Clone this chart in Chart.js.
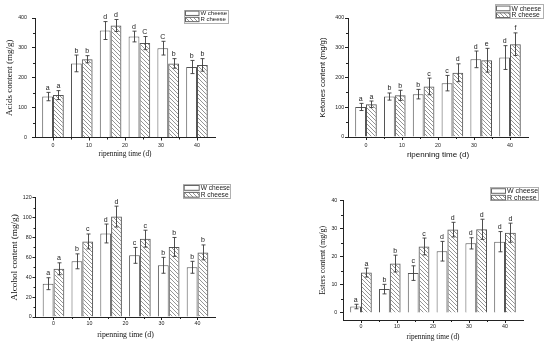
<!DOCTYPE html>
<html><head><meta charset="utf-8">
<script src="https://cdn.jsdelivr.net/npm/chart.js@4"></script>
<style>
body{margin:0;background:#fff;width:550px;height:345px;overflow:hidden;position:relative}
.p{position:absolute}
canvas{display:block}
</style></head><body>
<div class="p" style="left:0;top:0"><canvas id="c1" width="275" height="172"></canvas></div>
<div class="p" style="left:275px;top:0"><canvas id="c2" width="275" height="172"></canvas></div>
<div class="p" style="left:0;top:172px"><canvas id="c3" width="275" height="173"></canvas></div>
<div class="p" style="left:275px;top:172px"><canvas id="c4" width="275" height="173"></canvas></div>
<script>
// ---- data ----
const days = [0, 8, 16, 24, 32, 40];
const xTickValues = [0, 10, 20, 30, 40];
const seriesNames = ['W cheese', 'R cheese'];
const xTitle = 'ripenning time (d)';

const acidsW = [137, 248, 358, 338, 299, 236];
const acidsWErr = [14, 28, 30, 18, 23, 22];
const acidsR = [142, 262, 375, 316, 248, 243];
const acidsRErr = [15, 12, 20, 22, 16, 21];
const acidsWLetters = ['a', 'b', 'd', 'd', 'C', 'b'];
const acidsRLetters = ['a', 'b', 'd', 'C', 'b', 'b'];
const acidsTicks = [0, 100, 200, 300, 400];

const ketonesW = [101, 136, 144, 181, 261, 267];
const ketonesWErr = [12, 12, 16, 26, 28, 40];
const ketonesR = [110, 140, 170, 216, 258, 312];
const ketonesRErr = [11, 17, 28, 30, 40, 38];
const ketonesWLetters = ['a', 'b', 'b', 'c', 'd', 'd'];
const ketonesRLetters = ['a', 'b', 'c', 'd', 'e', 'f'];
const ketonesTicks = [0, 100, 200, 300, 400];

const alcoholW = [33.5, 56, 84, 62, 52, 50];
const alcoholWErr = [6, 7.5, 9.5, 8, 8, 6];
const alcoholR = [48.5, 76, 101, 78.8, 70.5, 65];
const alcoholRErr = [6, 7.5, 10.5, 8.5, 9.5, 7.5];
const alcoholWLetters = ['a', 'b', 'd', 'c', 'b', 'b'];
const alcoholRLetters = ['a', 'c', 'd', 'c', 'b', 'b'];
const alcoholTicks = [0, 20, 40, 60, 80, 100, 120];

const estersW = [2.3, 8.5, 14.2, 22, 24.8, 25.4];
const estersWErr = [0.8, 1.7, 2.6, 3.5, 2, 3.6];
const estersR = [14.4, 17.6, 23.7, 29.7, 29.8, 28.6];
const estersRErr = [1.6, 3, 3, 2.6, 3.6, 3.4];
const estersWLetters = ['a', 'b', 'c', 'd', 'd', 'd'];
const estersRLetters = ['a', 'b', 'c', 'd', 'd', 'd'];
const estersTicks = [0, 10, 20, 30, 40];

// ---- plugins ----
const errorBars = {
  id: 'errbars',
  afterDatasetsDraw(chart, args, o) {
    const ctx = chart.ctx, ys = chart.scales.y;
    ctx.save();
    chart.data.datasets.forEach((ds, i) => {
      chart.getDatasetMeta(i).data.forEach((bar, j) => {
        const v = ds.data[j].y, e = ds.errors[j];
        const yt = ys.getPixelForValue(v + e), yb = ys.getPixelForValue(v - e);
        const x = Math.round(bar.x) + 0.5;
        ctx.strokeStyle = '#3a3a3a'; ctx.lineWidth = 0.9;
        ctx.beginPath();
        ctx.moveTo(x, yt); ctx.lineTo(x, yb);
        ctx.moveTo(x - 2, yt); ctx.lineTo(x + 2, yt);
        ctx.moveTo(x - 2, yb); ctx.lineTo(x + 2, yb);
        ctx.stroke();
        ctx.fillStyle = '#1a1a1a';
        ctx.font = '7px "Liberation Sans"';
        ctx.textAlign = 'center'; ctx.textBaseline = 'alphabetic';
        ctx.fillText(ds.letters[j], bar.x, yt - 2.5);
      });
    });
    ctx.restore();
  }
};
const boxLegend = {
  id: 'boxLegend',
  afterDraw(chart, args, o) {
    const ctx = chart.ctx;
    ctx.save();
    ctx.fillStyle = '#fff'; ctx.fillRect(o.x, o.y, o.w, o.h);
    ctx.strokeStyle = '#b0b0b0'; ctx.lineWidth = 1;
    ctx.strokeRect(Math.round(o.x) + 0.5, Math.round(o.y) + 0.5, Math.round(o.w) - 1, Math.round(o.h) - 1);
    chart.data.datasets.forEach((ds, i) => {
      const cy = o.y + o.h * (i === 0 ? 0.28 : 0.74);
      const sh = o.h * 0.32;
      ctx.fillStyle = ds.backgroundColor;
      ctx.fillRect(o.x + 1.5, cy - sh / 2, o.sw, sh);
      ctx.strokeStyle = '#666';
      ctx.strokeRect(o.x + 1.5, cy - sh / 2, o.sw, sh);
      ctx.fillStyle = '#222';
      ctx.font = o.fs + 'px "Liberation Sans"';
      ctx.textAlign = 'left'; ctx.textBaseline = 'middle';
      ctx.fillText(ds.label, o.x + o.sw + 3, cy + 0.3);
    });
    ctx.restore();
  }
};
const minorTicks = {
  id: 'minorTicks',
  afterDraw(chart) {
    const ctx = chart.ctx, xs = chart.scales.x, ys = chart.scales.y, a = chart.chartArea;
    const mids = t => t.slice(1).map((v, i) => (v + t[i]) / 2);
    ctx.save(); ctx.strokeStyle = '#222'; ctx.lineWidth = 1;
    ctx.beginPath();
    mids(xTickValues).forEach(v => { const p = Math.round(xs.getPixelForValue(v)) + 0.5; ctx.moveTo(p, a.bottom); ctx.lineTo(p, a.bottom + 2); });
    mids(chart.options.plugins.minorTicks.yt).forEach(v => { const p = Math.round(ys.getPixelForValue(v)) + 0.5; ctx.moveTo(a.left - 2, p); ctx.lineTo(a.left, p); });
    ctx.stroke(); ctx.restore();
  }
};

function makeHatch(ctx) {
  const c = document.createElement('canvas'); c.width = 4; c.height = 4;
  const g = c.getContext('2d');
  g.strokeStyle = '#7a7a7a'; g.lineWidth = 0.8;
  g.beginPath();
  g.moveTo(0, 0); g.lineTo(4, 4);
  g.moveTo(-1, 3); g.lineTo(1, 5);
  g.moveTo(3, -1); g.lineTo(5, 1);
  g.stroke();
  return ctx.createPattern(c, 'repeat');
}

function panel(id, o) {
  const ctx = document.getElementById(id).getContext('2d');
  const pat = makeHatch(ctx);
  const common = { borderColor: '#555', borderWidth: 1, categoryPercentage: 0.75, barPercentage: 1, borderSkipped: 'start' };
  return new Chart(ctx, {
    type: 'bar',
    data: {
      datasets: [
        Object.assign({ label: seriesNames[0], data: days.map((d, i) => ({ x: d, y: o.w[i] })), errors: o.we, letters: o.wl, backgroundColor: '#fff' }, common),
        Object.assign({ label: seriesNames[1], data: days.map((d, i) => ({ x: d, y: o.r[i] })), errors: o.re, letters: o.rl, backgroundColor: pat }, common)
      ]
    },
    options: {
      responsive: false, animation: false, devicePixelRatio: 1,
      layout: { padding: { top: o.top, right: o.right, left: 0, bottom: 0 } },
      plugins: { legend: { display: false }, tooltip: { enabled: false }, boxLegend: o.legend, minorTicks: { yt: o.yt } },
      scales: {
        x: {
          type: 'linear', min: -5, max: 45, offset: false,
          afterBuildTicks: s => { s.ticks = xTickValues.map(v => ({ value: v })); },
          afterFit: s => { s.height = o.xH; },
          grid: { display: true, drawOnChartArea: false, drawTicks: true, tickLength: 3, tickColor: '#222', offset: false },
          border: { display: true, color: '#222', width: 1 },
          ticks: { font: { size: 5.3, family: 'Liberation Sans' }, padding: o.xPad, color: '#222', maxRotation: 0, autoSkip: false },
          title: { display: true, text: xTitle, color: '#111', font: { family: o.tf, size: o.xts }, padding: { top: 0, bottom: o.xtp } }
        },
        y: {
          type: 'linear', min: o.ymin, max: o.ymax,
          afterBuildTicks: s => { s.ticks = o.yt.map(v => ({ value: v })); },
          afterFit: s => { s.width = o.left; },
          grid: { display: true, drawOnChartArea: false, drawTicks: true, tickLength: 3, tickColor: '#222' },
          border: { display: true, color: '#222', width: 1 },
          ticks: { font: { size: 5.3, family: 'Liberation Sans' }, padding: o.yPad, color: '#222' },
          title: { display: true, text: o.ytitle, color: '#111', font: { family: o.tf, size: o.yts }, padding: { top: o.ytp, bottom: 0 } }
        }
      }
    },
    plugins: [errorBars, boxLegend, minorTicks]
  });
}

const serif = '"Liberation Serif"', sans = '"Liberation Sans"';

panel('c1', { w: acidsW, we: acidsWErr, r: acidsR, re: acidsRErr, wl: acidsWLetters, rl: acidsRLetters, yt: acidsTicks,
  ymin: 0, ymax: 400, ytitle: 'Acids content (mg/g)', tf: serif,
  left: 35, right: 60, top: 18, xH: 34.5, xPad: 1.5, yPad: 5, xts: 7.3, xtp: 13.3, yts: 9, ytp: 4.6,
  legend: { x: 184, y: 9.5, w: 45, h: 13.5, sw: 13.5, fs: 6 } });

panel('c2', { w: ketonesW, we: ketonesWErr, r: ketonesR, re: ketonesRErr, wl: ketonesWLetters, rl: ketonesRLetters, yt: ketonesTicks,
  ymin: 0, ymax: 400, ytitle: 'Ketones content (mg/g)', tf: sans,
  left: 73, right: 22, top: 18, xH: 35, xPad: 2, yPad: 0.8, xts: 8, xtp: 12.9, yts: 7.7, ytp: 43.4,
  legend: { x: 220, y: 4.3, w: 48.5, h: 14.7, sw: 13.5, fs: 6.7 } });

panel('c3', { w: alcoholW, we: alcoholWErr, r: alcoholR, re: alcoholRErr, wl: alcoholWLetters, rl: alcoholRLetters, yt: alcoholTicks,
  ymin: 0, ymax: 120, ytitle: 'Alcohol content (mg/g)', tf: serif,
  left: 35.5, right: 59.5, top: 25.7, xH: 28, xPad: 0.3, yPad: 0.8, xts: 7.8, xtp: 5.6, yts: 9.2, ytp: 9,
  legend: { x: 182.7, y: 11.7, w: 47.5, h: 15, sw: 15, fs: 6.6 } });

panel('c4', { w: estersW, we: estersWErr, r: estersR, re: estersRErr, wl: estersWLetters, rl: estersRLetters, yt: estersTicks,
  ymin: -2.5, ymax: 40, ytitle: 'Esters content (mg/g)', tf: serif,
  left: 68, right: 27, top: 28.7, xH: 25, xPad: 0, yPad: 2.7, xts: 7.3, xtp: 3.9, yts: 8, ytp: 42.9,
  legend: { x: 215, y: 15, w: 49, h: 14.3, sw: 14, fs: 7 } });
</script>
</body></html>
